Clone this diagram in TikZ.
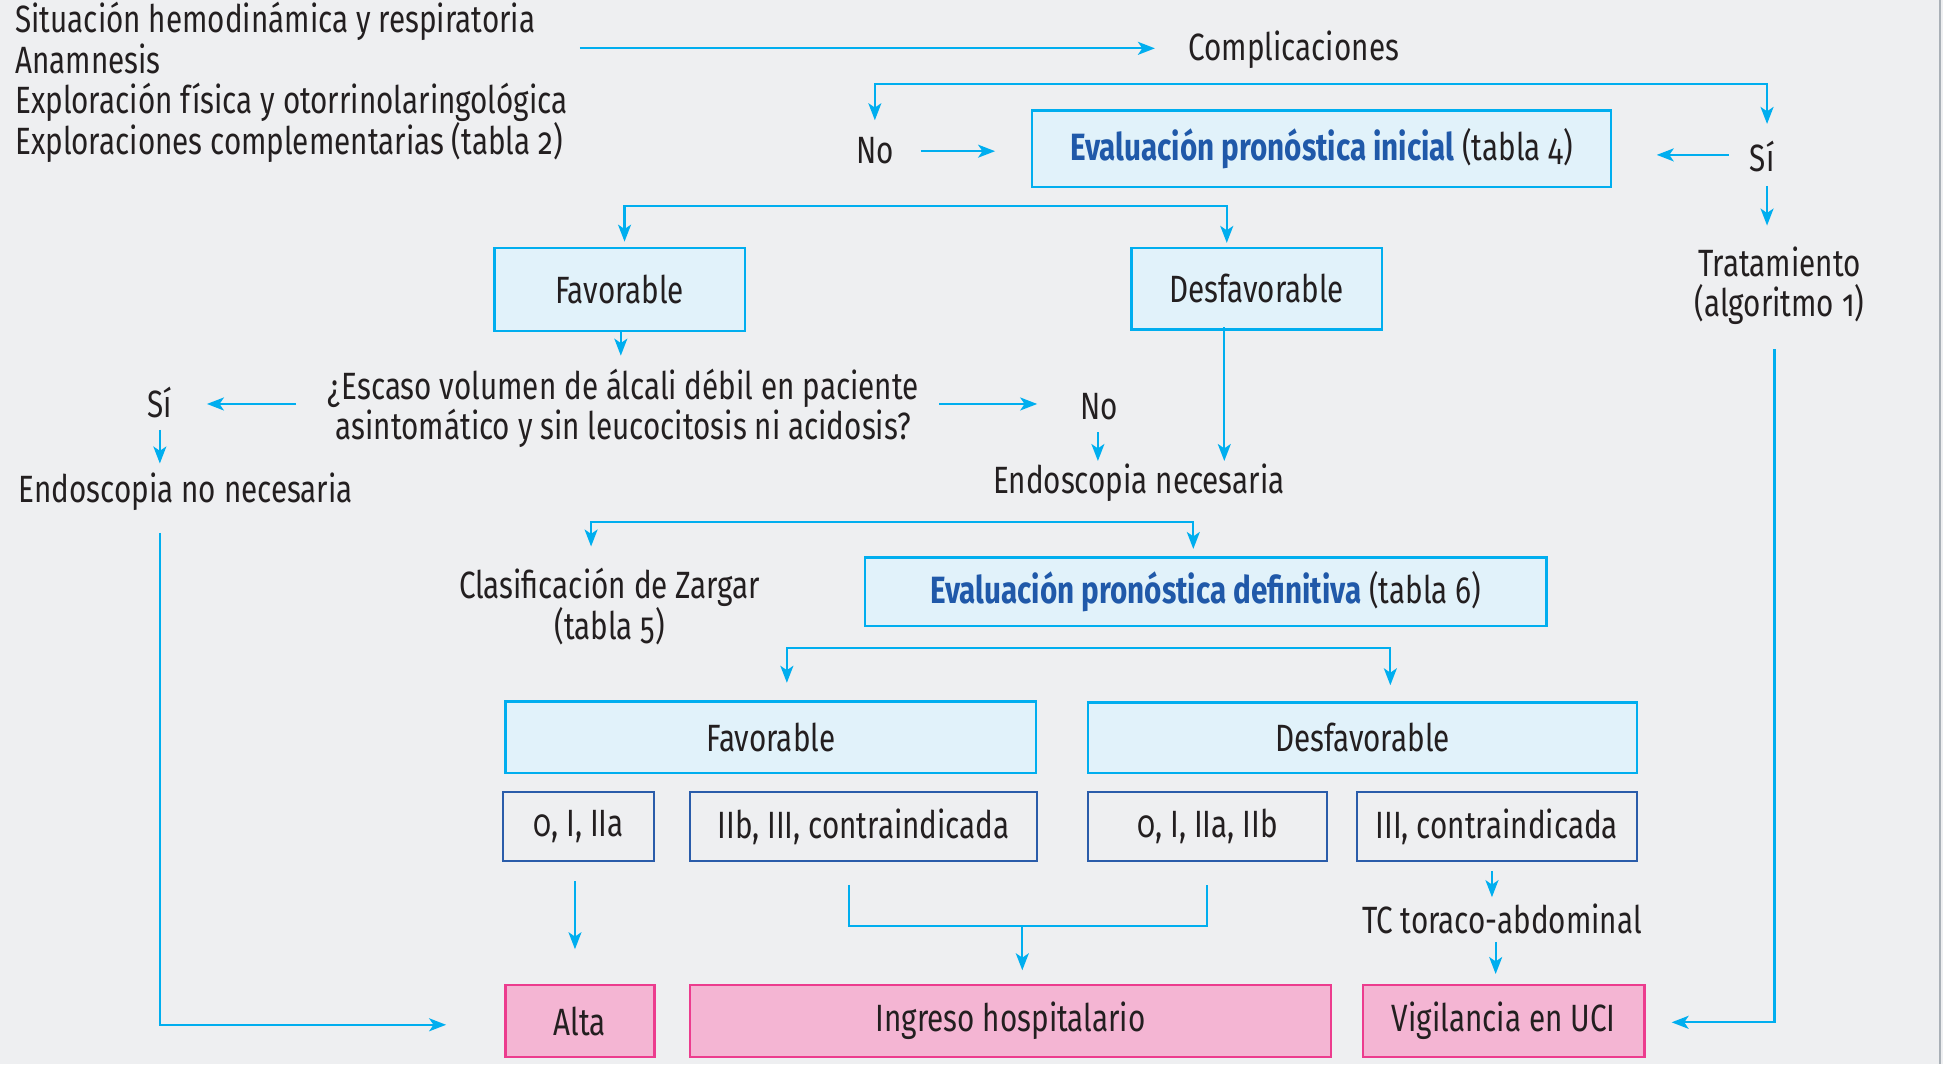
\documentclass[tikz,border=0pt]{standalone}
\usepackage{fontspec}
\setmainfont{Fira Sans}[FakeStretch=0.78,Numbers=OldStyle]
\usetikzlibrary{arrows.meta}
\definecolor{bg}{HTML}{EEEFF1}
\definecolor{cy}{HTML}{00AEEF}
\definecolor{lbfill}{HTML}{E1F2FA}
\definecolor{dblue}{HTML}{2A5CAA}
\definecolor{pkfill}{HTML}{F4B5D3}
\definecolor{pkdraw}{HTML}{EC3C8E}
\definecolor{txt}{HTML}{231F20}
\definecolor{btxt}{HTML}{2059A9}
\definecolor{edge}{HTML}{A9B0B7}
\begin{document}
\begin{tikzpicture}[x=0.6196pt,y=-0.6196pt,
  font=\fontsize{19}{20.3}\selectfont, text=txt,
  lbox/.style={draw=cy, fill=lbfill, line width=1.2pt, inner sep=0pt},
  dbox/.style={draw=dblue, line width=1.2pt, inner sep=0pt, minimum height=34.7pt},
  pbox/.style={draw=pkdraw, fill=pkfill, line width=1.2pt, inner sep=0pt, minimum height=35.9pt},
  lbl/.style={inner sep=0pt, align=center},
  conn/.style={draw=cy, line width=1.05pt},
  arr/.style={conn, -{Stealth[length=8.5pt,width=6.5pt,inset=2.2pt]}},
  arr2/.style={conn, {Stealth[length=8.5pt,width=6.5pt,inset=2.2pt]}-{Stealth[length=8.5pt,width=6.5pt,inset=2.2pt]}}]
% background
\fill[bg] (0,0) rectangle (1568,859);
\fill[edge] (1564.5,0) rectangle (1566.5,859);
\useasboundingbox (0,0) rectangle (1568,859);

% text nodes
\node[lbl, anchor=west, align=left] (sit) at (12,66.5) {Situación hemodinámica y respiratoria\\Anamnesis\\Exploración física y otorrinolaringológica\\Exploraciones complementarias (tabla 2)};
\node[lbl] (comp) at (1044,40.5) {Complicaciones};
\node[lbl] (no1) at (706,121.5) {No};
\node[lbl] (si1) at (1422,126.5) {Sí};
\node[lbl] (trat) at (1436,230.5) {Tratamiento\\(algoritmo 1)};
\node[lbl] (q) at (503,329.5) {¿Escaso volumen de álcali débil en paciente\\asintomático y sin leucocitosis ni acidosis?};
\node[lbl] (si2) at (129,324.5) {Sí};
\node[lbl] (endno) at (150,396.5) {Endoscopia no necesaria};
\node[lbl] (no2) at (887,328.5) {No};
\node[lbl] (endsi) at (919,389.5) {Endoscopia necesaria};
\node[lbl] (zarg) at (492,489.5) {Clasificación de Zargar\\(tabla 5)};
\node[lbl] (tc) at (1212,741.5) {TC toraco-abdominal};

% boxes
\node[lbox, minimum width=289.4pt, minimum height=38.4pt] (eval1) at (1066.5,120) {\textcolor{btxt}{\bfseries Evaluación pronóstica inicial} (tabla 4)};
\node[lbox, minimum width=125.2pt, minimum height=41.5pt] (fav1) at (500,233.5) {Favorable};
\node[lbox, minimum width=125.2pt, minimum height=40.9pt] (desf1) at (1014,233) {Desfavorable};
\node[lbox, minimum width=340.8pt, minimum height=34.1pt] (eval2) at (973,477.5) {\textcolor{btxt}{\bfseries Evaluación pronóstica definitiva} (tabla 6)};
\node[lbox, minimum width=265.2pt, minimum height=35.9pt] (fav2) at (622,595) {Favorable};
\node[lbox, minimum width=274.5pt, minimum height=35.3pt] (desf2) at (1099.5,595.5) {Desfavorable};
\node[dbox, minimum width=75.6pt] (g1) at (467,667) {0, I, IIa};
\node[dbox, minimum width=173.5pt] (g2) at (697,667) {IIb, III, contraindicada};
\node[dbox, minimum width=119.6pt] (g3) at (974.5,667) {0, I, IIa, IIb};
\node[dbox, minimum width=140.0pt] (g4) at (1208,667) {III, contraindicada};
\node[pbox, minimum width=74.4pt] (alta) at (468,824) {Alta};
\node[pbox, minimum width=320.3pt] (ingreso) at (815.5,824) {Ingreso hospitalario};
\node[pbox, minimum width=140.6pt] (uci) at (1213.5,824) {Vigilancia en UCI};

% connector coordinates
\coordinate (a1s) at (468,39);   \coordinate (a1e) at (932,39);
\coordinate (b1) at (706,97);    \coordinate (b2) at (706,68);
\coordinate (b3) at (1426,68);   \coordinate (b4) at (1426,100);
\coordinate (a3s) at (743,122);  \coordinate (a3e) at (803,122);
\coordinate (a4s) at (1395,125); \coordinate (a4e) at (1337,125);
\coordinate (a5s) at (1426,150); \coordinate (a5e) at (1426,182);
\coordinate (a6s) at (1432,282); \coordinate (a6c) at (1432,825); \coordinate (a6e) at (1349,825);
\coordinate (c1) at (504,195);   \coordinate (c2) at (504,166);
\coordinate (c3) at (990,166);   \coordinate (c4) at (990,196);
\coordinate (a8s) at (501,267);  \coordinate (a8e) at (501,287);
\coordinate (a9s) at (239,326);  \coordinate (a9e) at (167,326);
\coordinate (a10s) at (129,347); \coordinate (a10e) at (129,374);
\coordinate (a11s) at (129,430); \coordinate (a11c) at (129,827); \coordinate (a11e) at (360,827);
\coordinate (a12s) at (758,326); \coordinate (a12e) at (837,326);
\coordinate (a13s) at (886,349); \coordinate (a13e) at (886,372);
\coordinate (a14s) at (988,264); \coordinate (a14e) at (988,372);
\coordinate (d1) at (477,441);   \coordinate (d2) at (477,421);
\coordinate (d3) at (963,421);   \coordinate (d4) at (963,443);
\coordinate (e1) at (635,551);   \coordinate (e2) at (635,523);
\coordinate (e3) at (1122,523);  \coordinate (e4) at (1122,553);
\coordinate (a17s) at (464,711); \coordinate (a17e) at (464,766);
\coordinate (f1) at (685,714);   \coordinate (f2) at (685,747);
\coordinate (f3) at (974,747);   \coordinate (f4) at (974,714);
\coordinate (fm) at (825,747);   \coordinate (fe) at (825,783);
\coordinate (a19s) at (1204,703); \coordinate (a19e) at (1204,724);
\coordinate (a20s) at (1207,760); \coordinate (a20e) at (1207,786);

% connectors
\draw[arr] (a1s) -- (a1e);
\draw[arr2] (b1) -- (b2) -- (b3) -- (b4);
\draw[arr] (a3s) -- (a3e);
\draw[arr] (a4s) -- (a4e);
\draw[arr] (a5s) -- (a5e);
\draw[arr] (a6s) -- (a6c) -- (a6e);
\draw[arr2] (c1) -- (c2) -- (c3) -- (c4);
\draw[arr] (a8s) -- (a8e);
\draw[arr] (a9s) -- (a9e);
\draw[arr] (a10s) -- (a10e);
\draw[arr] (a11s) -- (a11c) -- (a11e);
\draw[arr] (a12s) -- (a12e);
\draw[arr] (a13s) -- (a13e);
\draw[arr] (a14s) -- (a14e);
\draw[arr2] (d1) -- (d2) -- (d3) -- (d4);
\draw[arr2] (e1) -- (e2) -- (e3) -- (e4);
\draw[arr] (a17s) -- (a17e);
\draw[conn] (f1) -- (f2) -- (f3) -- (f4);
\draw[arr] (fm) -- (fe);
\draw[arr] (a19s) -- (a19e);
\draw[arr] (a20s) -- (a20e);
\end{tikzpicture}
\end{document}
